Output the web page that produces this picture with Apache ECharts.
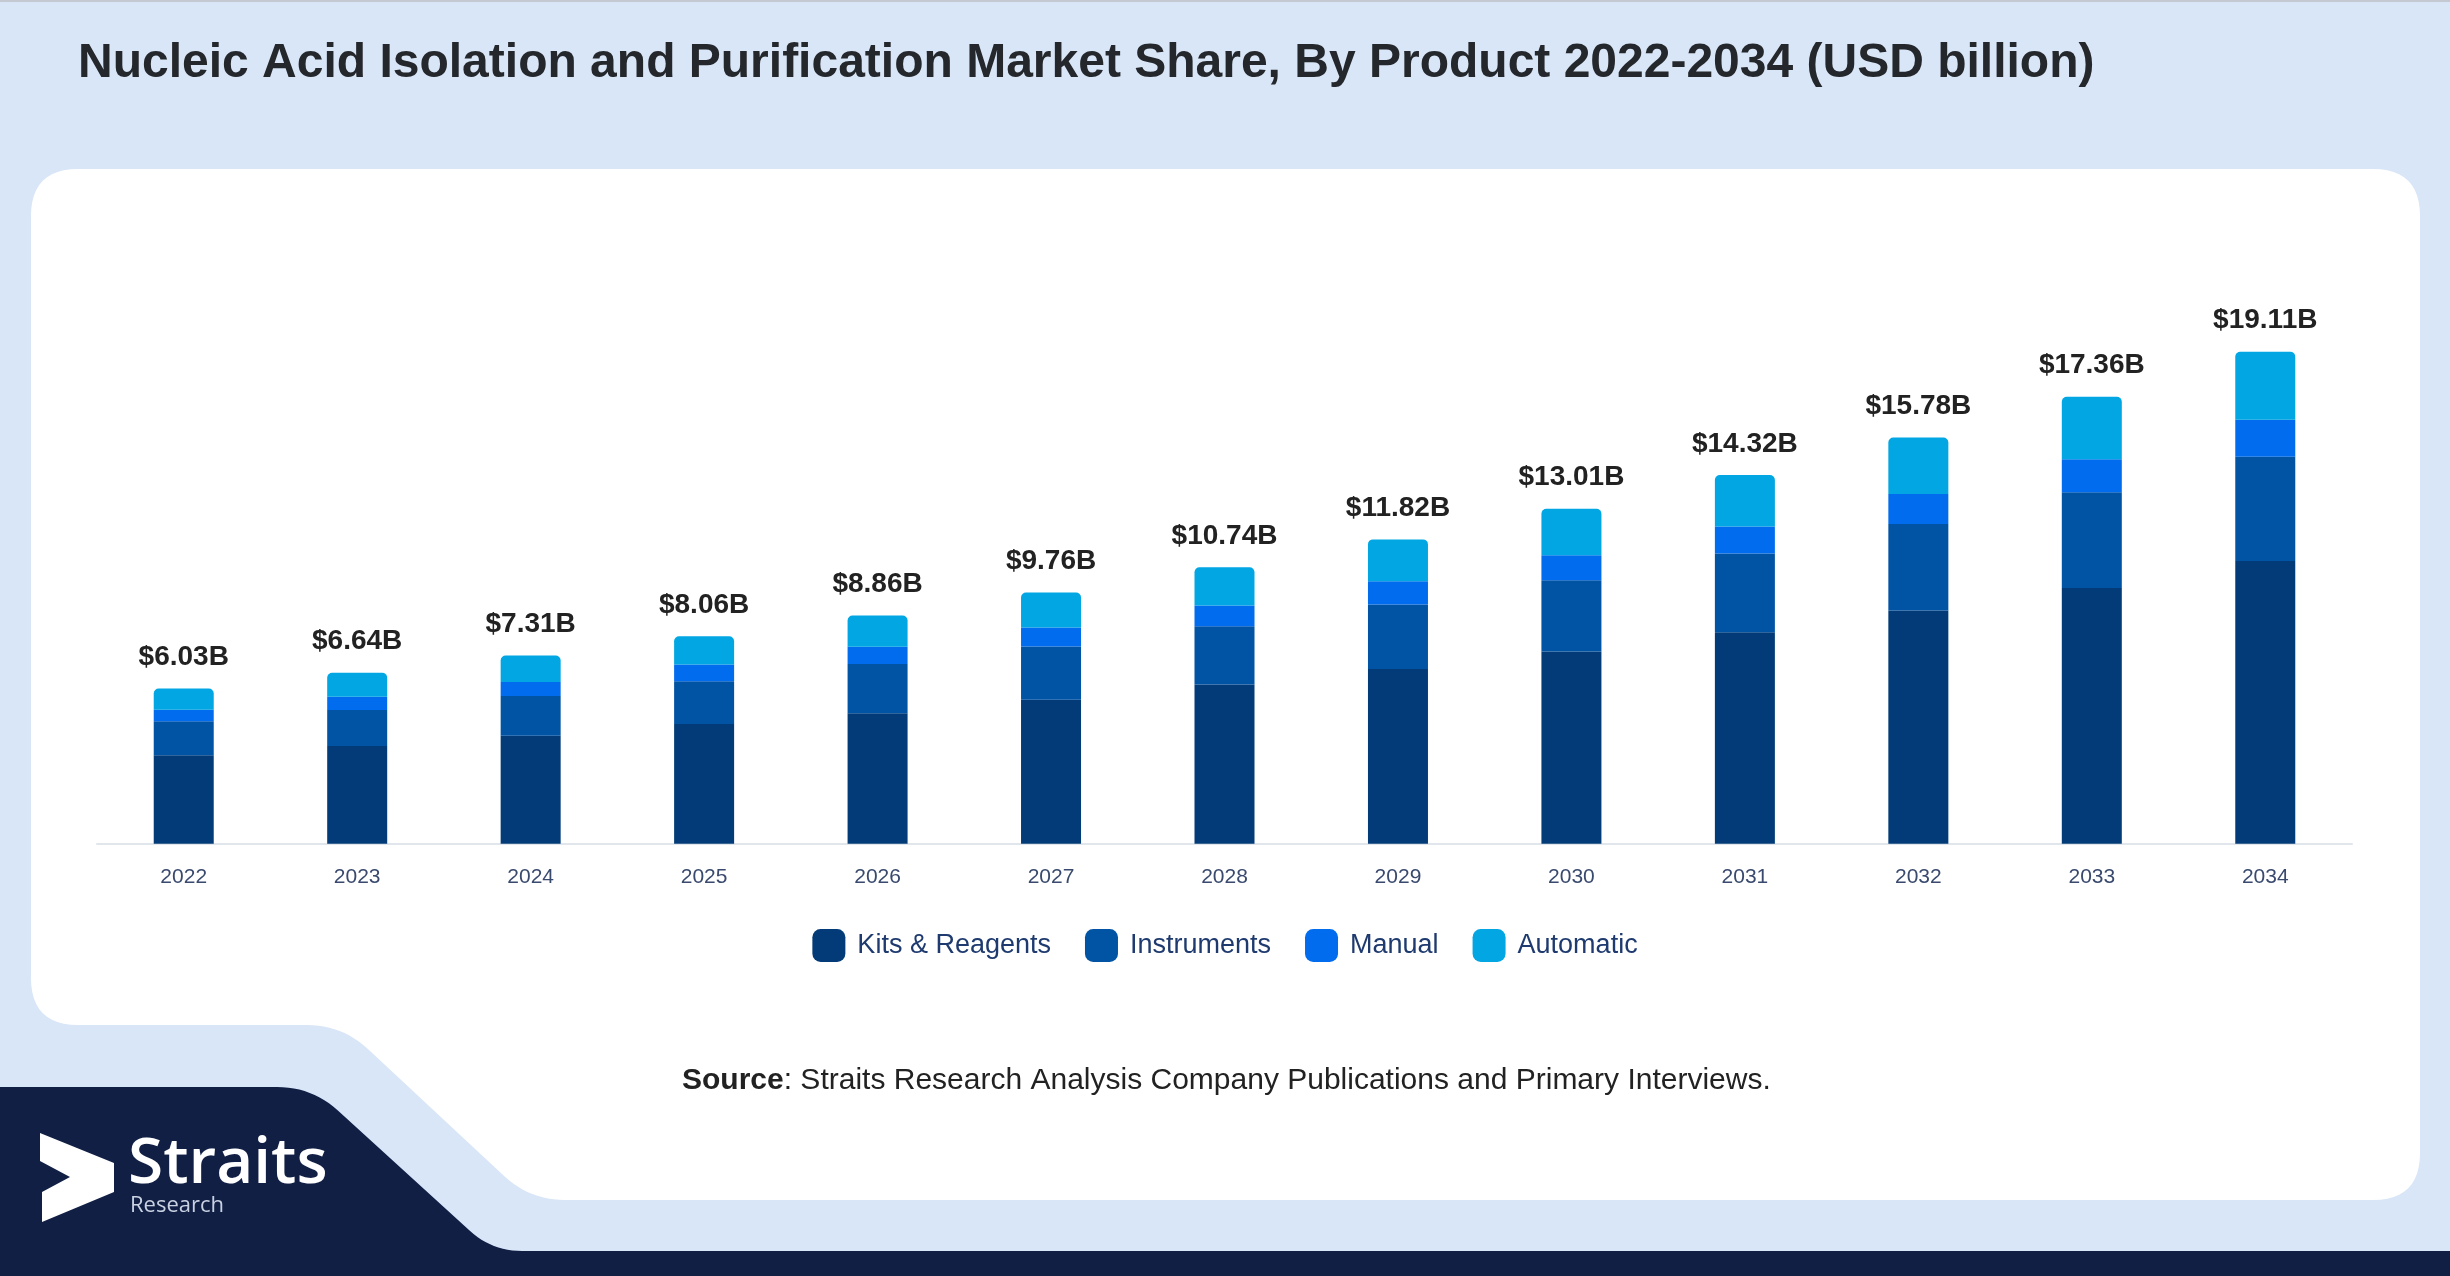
<!DOCTYPE html>
<html>
<head>
<meta charset="utf-8">
<script src="https://cdn.jsdelivr.net/npm/echarts@6/dist/echarts.min.js"></script>
<style>
html,body{margin:0;padding:0;background:#d9e6f7;}
#c{width:2450px;height:1276px;}
</style>
</head>
<body>
<div id="c"></div>
<script>
const years = ['2022','2023','2024','2025','2026','2027','2028','2029','2030','2031','2032','2033','2034'];
const kitsReagents = [3.44,3.80,4.19,4.65,5.07,5.59,6.18,6.79,7.47,8.21,9.06,9.93,10.98];
const instruments  = [1.32,1.39,1.55,1.66,1.91,2.07,2.27,2.50,2.76,3.06,3.36,3.72,4.05];
const manual       = [0.44,0.52,0.54,0.65,0.67,0.74,0.80,0.90,0.97,1.05,1.16,1.28,1.44];
const automatic    = [0.83,0.93,1.03,1.10,1.21,1.36,1.49,1.63,1.81,2.00,2.20,2.43,2.64];
const totals       = [6.03,6.64,7.31,8.06,8.86,9.76,10.74,11.82,13.01,14.32,15.78,17.36,19.11];
const seriesNames  = ['Kits & Reagents','Instruments','Manual','Automatic'];
const titleText = 'Nucleic Acid Isolation and Purification Market Share, By Product 2022-2034 (USD billion)';

// decorative helper: polygon with rounded corners
function roundedPoly(pts, radii) {
  const out = [];
  const n = pts.length;
  for (let i = 0; i < n; i++) {
    const p = pts[i], prev = pts[(i - 1 + n) % n], next = pts[(i + 1) % n];
    const r = radii[i];
    if (!r) { out.push(p); continue; }
    const d1 = Math.hypot(prev[0]-p[0], prev[1]-p[1]);
    const d2 = Math.hypot(next[0]-p[0], next[1]-p[1]);
    const a = [p[0] + (prev[0]-p[0]) * r / d1, p[1] + (prev[1]-p[1]) * r / d1];
    const b = [p[0] + (next[0]-p[0]) * r / d2, p[1] + (next[1]-p[1]) * r / d2];
    for (let k = 0; k <= 12; k++) {
      const t = k / 12;
      const x = (1-t)*(1-t)*a[0] + 2*(1-t)*t*p[0] + t*t*b[0];
      const y = (1-t)*(1-t)*a[1] + 2*(1-t)*t*p[1] + t*t*b[1];
      out.push([x, y]);
    }
  }
  return out;
}

const cardPts = roundedPoly(
  [[31,169],[2420,169],[2420,1200],[530,1200],[342,1025],[31,1025]],
  [47,47,47,35,35,47]);
const navyPts = roundedPoly(
  [[0,1087],[312,1087],[492,1251],[2450,1251],[2450,1276],[0,1276]],
  [0,35,30,0,0,0]);
const logoPts = [[40,1133],[114,1163],[114,1192],[42,1222],[42,1192],[70,1177],[40,1161]];

const chart = echarts.init(document.getElementById('c'));
const FONT = '"Liberation Sans", Arial, sans-serif';

const colors = ['#023b77','#0153a4','#016ced','#01a6e2'];
const dataArrays = [kitsReagents, instruments, manual, automatic];

const series = seriesNames.map((name, i) => {
  const s = {
    name: name,
    type: 'bar',
    stack: 'total',
    barWidth: 60,
    data: dataArrays[i],
    itemStyle: { color: colors[i] },
    emphasis: { disabled: true }
  };
  if (i === 3) {
    s.itemStyle.borderRadius = [5,5,0,0];
    s.label = {
      show: true,
      position: 'top',
      distance: 17,
      formatter: (p) => '$' + totals[p.dataIndex].toFixed(2) + 'B',
      fontFamily: FONT,
      fontWeight: 'bold',
      fontSize: 28,
      color: '#222222'
    };
  }
  return s;
});

chart.setOption({
  backgroundColor: '#d9e6f7',
  animation: false,
  graphic: [
    { type: 'rect', z: -5, shape: { x: 0, y: 0, width: 2450, height: 2 }, style: { fill: '#c4c9d1' }, silent: true },
    { type: 'polygon', z: -5, shape: { points: cardPts }, style: { fill: '#ffffff' }, silent: true },
    { type: 'polygon', z: -5, shape: { points: navyPts }, style: { fill: '#111f45' }, silent: true },
    { type: 'polygon', z: -4, shape: { points: logoPts }, style: { fill: '#ffffff' }, silent: true },
    { type: 'text', z: -4, style: { text: 'Straits', x: 128, y: 1165, font: '600 64px "Open Sans", sans-serif', fill: '#ffffff', align: 'left', verticalAlign: 'middle', textAlign: 'left', textVerticalAlign: 'middle' }, silent: true },
    { type: 'text', z: -4, style: { text: 'Research', x: 130, y: 1206, font: '22px "Open Sans", sans-serif', fill: '#c9d1e2', align: 'left', verticalAlign: 'middle', textAlign: 'left', textVerticalAlign: 'middle' }, silent: true },
    { type: 'text', z: -4, style: { text: titleText, x: 78, y: 64, font: 'bold 48px ' + FONT, fill: '#24272b', align: 'left', verticalAlign: 'middle', textAlign: 'left', textVerticalAlign: 'middle' }, silent: true },
    { type: 'text', z: -4, style: {
        text: '{b|Source}: Straits Research Analysis Company Publications and Primary Interviews.',
        x: 682, y: 1081, font: '30px ' + FONT, fill: '#222222',
        align: 'left', verticalAlign: 'middle', textAlign: 'left', textVerticalAlign: 'middle',
        rich: { b: { fontWeight: 'bold', fontSize: 30, fontFamily: FONT, fill: '#222222', color: '#222222' } }
      }, silent: true }
  ],
  legend: {
    data: seriesNames,
    left: 'center',
    top: 929,
    itemWidth: 33,
    itemHeight: 33,
    itemGap: 34,
    icon: 'roundRect',
    padding: 0,
    textStyle: { fontFamily: FONT, fontSize: 27, color: '#1e3a6e', padding: [0,0,0,7] }
  },
  grid: { left: 97, right: 98, top: 328.75, bottom: 432.25, containLabel: false },
  xAxis: {
    type: 'category',
    data: years,
    axisLine: { lineStyle: { color: '#e1e5ec', width: 2 } },
    axisTick: { show: false },
    axisLabel: { fontFamily: FONT, fontSize: 21, color: '#3a4a6e', margin: 23 }
  },
  yAxis: {
    type: 'value',
    min: 0,
    max: 20,
    show: false,
    splitLine: { show: false }
  },
  series: series
});
</script>
</body>
</html>
